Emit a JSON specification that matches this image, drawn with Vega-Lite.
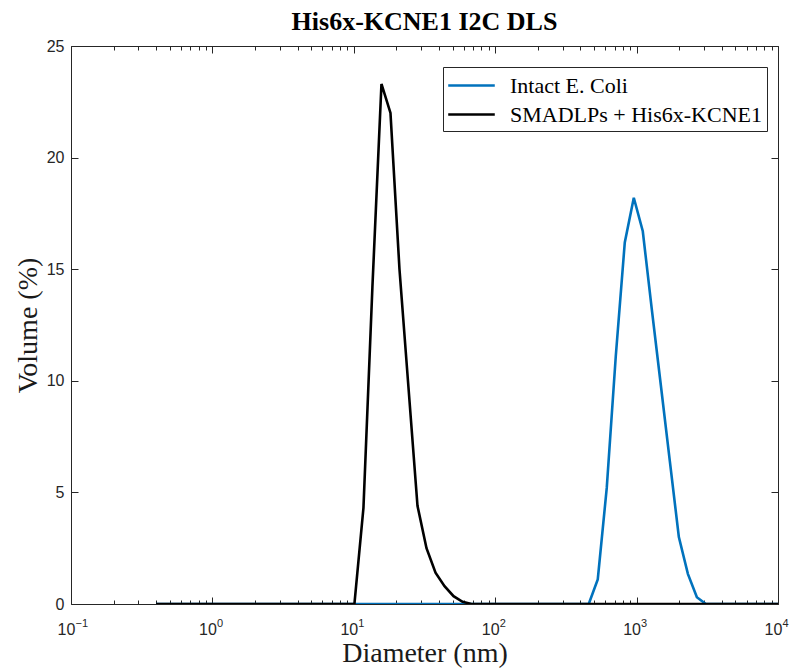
{
  "$schema": "https://vega.github.io/schema/vega-lite/v6.json",
  "width": 707,
  "height": 558,
  "autosize": {"type": "none"},
  "padding": {"left": 71, "top": 46, "right": 11, "bottom": 64},
  "background": "white",
  "title": {"text": "His6x-KCNE1 I2C DLS", "font": "Liberation Serif", "fontSize": 26, "fontWeight": "bold", "color": "black", "anchor": "middle", "frame": "group", "offset": 3},
  "config": {"view": {"stroke": null}},
  "data": {"values": [
    {"d":0.4,"s":"Intact E. Coli","v":0},{"d":0.4632,"s":"Intact E. Coli","v":0},{"d":0.5365,"s":"Intact E. Coli","v":0},{"d":0.6213,"s":"Intact E. Coli","v":0},{"d":0.7195,"s":"Intact E. Coli","v":0},{"d":0.8332,"s":"Intact E. Coli","v":0},{"d":0.9649,"s":"Intact E. Coli","v":0},{"d":1.117,"s":"Intact E. Coli","v":0},{"d":1.294,"s":"Intact E. Coli","v":0},{"d":1.499,"s":"Intact E. Coli","v":0},
    {"d":1.736,"s":"Intact E. Coli","v":0},{"d":2.01,"s":"Intact E. Coli","v":0},{"d":2.328,"s":"Intact E. Coli","v":0},{"d":2.696,"s":"Intact E. Coli","v":0},{"d":3.122,"s":"Intact E. Coli","v":0},{"d":3.615,"s":"Intact E. Coli","v":0},{"d":4.187,"s":"Intact E. Coli","v":0},{"d":4.849,"s":"Intact E. Coli","v":0},{"d":5.615,"s":"Intact E. Coli","v":0},{"d":6.503,"s":"Intact E. Coli","v":0},
    {"d":7.531,"s":"Intact E. Coli","v":0},{"d":8.721,"s":"Intact E. Coli","v":0},{"d":10.1,"s":"Intact E. Coli","v":0},{"d":11.7,"s":"Intact E. Coli","v":0},{"d":13.54,"s":"Intact E. Coli","v":0},{"d":15.69,"s":"Intact E. Coli","v":0},{"d":18.17,"s":"Intact E. Coli","v":0},{"d":21.04,"s":"Intact E. Coli","v":0},{"d":24.36,"s":"Intact E. Coli","v":0},{"d":28.21,"s":"Intact E. Coli","v":0},
    {"d":32.67,"s":"Intact E. Coli","v":0},{"d":37.84,"s":"Intact E. Coli","v":0},{"d":43.82,"s":"Intact E. Coli","v":0},{"d":50.75,"s":"Intact E. Coli","v":0},{"d":58.77,"s":"Intact E. Coli","v":0},{"d":68.06,"s":"Intact E. Coli","v":0},{"d":78.82,"s":"Intact E. Coli","v":0},{"d":91.28,"s":"Intact E. Coli","v":0},{"d":105.7,"s":"Intact E. Coli","v":0},{"d":122.4,"s":"Intact E. Coli","v":0},
    {"d":141.8,"s":"Intact E. Coli","v":0},{"d":164.2,"s":"Intact E. Coli","v":0},{"d":190.1,"s":"Intact E. Coli","v":0},{"d":220.2,"s":"Intact E. Coli","v":0},{"d":255,"s":"Intact E. Coli","v":0},{"d":295.3,"s":"Intact E. Coli","v":0},{"d":342,"s":"Intact E. Coli","v":0},{"d":396.1,"s":"Intact E. Coli","v":0},{"d":458.7,"s":"Intact E. Coli","v":0},{"d":531.2,"s":"Intact E. Coli","v":1.1},
    {"d":615.1,"s":"Intact E. Coli","v":5.2},{"d":712.4,"s":"Intact E. Coli","v":11.1},{"d":825,"s":"Intact E. Coli","v":16.2},{"d":955.4,"s":"Intact E. Coli","v":18.2},{"d":1106,"s":"Intact E. Coli","v":16.7},{"d":1281,"s":"Intact E. Coli","v":13.2},{"d":1484,"s":"Intact E. Coli","v":9.8},{"d":1718,"s":"Intact E. Coli","v":6.4},{"d":1990,"s":"Intact E. Coli","v":3.0},{"d":2305,"s":"Intact E. Coli","v":1.35},
    {"d":2669,"s":"Intact E. Coli","v":0.3},{"d":3091,"s":"Intact E. Coli","v":0},{"d":3580,"s":"Intact E. Coli","v":0},{"d":4145,"s":"Intact E. Coli","v":0},{"d":4801,"s":"Intact E. Coli","v":0},{"d":5560,"s":"Intact E. Coli","v":0},{"d":6439,"s":"Intact E. Coli","v":0},{"d":7456,"s":"Intact E. Coli","v":0},{"d":8635,"s":"Intact E. Coli","v":0},{"d":10000,"s":"Intact E. Coli","v":0},
    {"d":0.4,"s":"SMADLPs + His6x-KCNE1","v":0},{"d":0.4632,"s":"SMADLPs + His6x-KCNE1","v":0},{"d":0.5365,"s":"SMADLPs + His6x-KCNE1","v":0},{"d":0.6213,"s":"SMADLPs + His6x-KCNE1","v":0},{"d":0.7195,"s":"SMADLPs + His6x-KCNE1","v":0},{"d":0.8332,"s":"SMADLPs + His6x-KCNE1","v":0},{"d":0.9649,"s":"SMADLPs + His6x-KCNE1","v":0},{"d":1.117,"s":"SMADLPs + His6x-KCNE1","v":0},{"d":1.294,"s":"SMADLPs + His6x-KCNE1","v":0},{"d":1.499,"s":"SMADLPs + His6x-KCNE1","v":0},
    {"d":1.736,"s":"SMADLPs + His6x-KCNE1","v":0},{"d":2.01,"s":"SMADLPs + His6x-KCNE1","v":0},{"d":2.328,"s":"SMADLPs + His6x-KCNE1","v":0},{"d":2.696,"s":"SMADLPs + His6x-KCNE1","v":0},{"d":3.122,"s":"SMADLPs + His6x-KCNE1","v":0},{"d":3.615,"s":"SMADLPs + His6x-KCNE1","v":0},{"d":4.187,"s":"SMADLPs + His6x-KCNE1","v":0},{"d":4.849,"s":"SMADLPs + His6x-KCNE1","v":0},{"d":5.615,"s":"SMADLPs + His6x-KCNE1","v":0},{"d":6.503,"s":"SMADLPs + His6x-KCNE1","v":0},
    {"d":7.531,"s":"SMADLPs + His6x-KCNE1","v":0},{"d":8.721,"s":"SMADLPs + His6x-KCNE1","v":0},{"d":10.1,"s":"SMADLPs + His6x-KCNE1","v":0},{"d":11.7,"s":"SMADLPs + His6x-KCNE1","v":4.3},{"d":13.54,"s":"SMADLPs + His6x-KCNE1","v":14.2},{"d":15.69,"s":"SMADLPs + His6x-KCNE1","v":23.3},{"d":18.17,"s":"SMADLPs + His6x-KCNE1","v":22.0},{"d":21.04,"s":"SMADLPs + His6x-KCNE1","v":15.0},{"d":24.36,"s":"SMADLPs + His6x-KCNE1","v":9.7},{"d":28.21,"s":"SMADLPs + His6x-KCNE1","v":4.4},
    {"d":32.67,"s":"SMADLPs + His6x-KCNE1","v":2.5},{"d":37.84,"s":"SMADLPs + His6x-KCNE1","v":1.4},{"d":43.82,"s":"SMADLPs + His6x-KCNE1","v":0.8},{"d":50.75,"s":"SMADLPs + His6x-KCNE1","v":0.35},{"d":58.77,"s":"SMADLPs + His6x-KCNE1","v":0.1},{"d":68.06,"s":"SMADLPs + His6x-KCNE1","v":0},{"d":78.82,"s":"SMADLPs + His6x-KCNE1","v":0},{"d":91.28,"s":"SMADLPs + His6x-KCNE1","v":0},{"d":105.7,"s":"SMADLPs + His6x-KCNE1","v":0},{"d":122.4,"s":"SMADLPs + His6x-KCNE1","v":0},
    {"d":141.8,"s":"SMADLPs + His6x-KCNE1","v":0},{"d":164.2,"s":"SMADLPs + His6x-KCNE1","v":0},{"d":190.1,"s":"SMADLPs + His6x-KCNE1","v":0},{"d":220.2,"s":"SMADLPs + His6x-KCNE1","v":0},{"d":255,"s":"SMADLPs + His6x-KCNE1","v":0},{"d":295.3,"s":"SMADLPs + His6x-KCNE1","v":0},{"d":342,"s":"SMADLPs + His6x-KCNE1","v":0},{"d":396.1,"s":"SMADLPs + His6x-KCNE1","v":0},{"d":458.7,"s":"SMADLPs + His6x-KCNE1","v":0},{"d":531.2,"s":"SMADLPs + His6x-KCNE1","v":0},
    {"d":615.1,"s":"SMADLPs + His6x-KCNE1","v":0},{"d":712.4,"s":"SMADLPs + His6x-KCNE1","v":0},{"d":825,"s":"SMADLPs + His6x-KCNE1","v":0},{"d":955.4,"s":"SMADLPs + His6x-KCNE1","v":0},{"d":1106,"s":"SMADLPs + His6x-KCNE1","v":0},{"d":1281,"s":"SMADLPs + His6x-KCNE1","v":0},{"d":1484,"s":"SMADLPs + His6x-KCNE1","v":0},{"d":1718,"s":"SMADLPs + His6x-KCNE1","v":0},{"d":1990,"s":"SMADLPs + His6x-KCNE1","v":0},{"d":2305,"s":"SMADLPs + His6x-KCNE1","v":0},
    {"d":2669,"s":"SMADLPs + His6x-KCNE1","v":0},{"d":3091,"s":"SMADLPs + His6x-KCNE1","v":0},{"d":3580,"s":"SMADLPs + His6x-KCNE1","v":0},{"d":4145,"s":"SMADLPs + His6x-KCNE1","v":0},{"d":4801,"s":"SMADLPs + His6x-KCNE1","v":0},{"d":5560,"s":"SMADLPs + His6x-KCNE1","v":0},{"d":6439,"s":"SMADLPs + His6x-KCNE1","v":0},{"d":7456,"s":"SMADLPs + His6x-KCNE1","v":0},{"d":8635,"s":"SMADLPs + His6x-KCNE1","v":0},{"d":10000,"s":"SMADLPs + His6x-KCNE1","v":0}
  ]},
  "layer": [
    {
      "mark": {"type": "line", "strokeWidth": 2.6, "strokeJoin": "miter", "clip": true},
      "encoding": {
        "x": {"field": "d", "type": "quantitative",
              "scale": {"type": "log", "domain": [0.1, 10000], "nice": false},
              "axis": {"orient": "bottom", "values": [0.1, 1, 10, 100, 1000, 10000], "labelExpr": "'10'",
                       "tickSize": -7, "tickColor": "#262626", "tickWidth": 1, "domainColor": "#262626", "domainWidth": 1,
                       "labelFont": "Liberation Sans", "labelFontSize": 16, "labelColor": "#262626", "labelPadding": 24, "labelOffset": -5,
                       "labelFlush": false, "labelOverlap": false, "grid": false,
                       "title": "Diameter (nm)", "titleFont": "Liberation Serif", "titleFontSize": 28, "titleFontWeight": "normal", "titleColor": "#1a1a1a", "titlePadding": 2}},
        "y": {"field": "v", "type": "quantitative",
              "scale": {"domain": [0, 25], "nice": false, "zero": false},
              "axis": {"orient": "left", "values": [0, 5, 10, 15, 20, 25],
                       "tickSize": -7, "tickColor": "#262626", "tickWidth": 1, "domainColor": "#262626", "domainWidth": 1,
                       "labelFont": "Liberation Sans", "labelFontSize": 16, "labelColor": "#262626", "labelPadding": 14,
                       "labelFlush": false, "labelOverlap": false, "grid": false,
                       "title": "Volume (%)", "titleFont": "Liberation Serif", "titleFontSize": 28, "titleFontWeight": "normal", "titleColor": "#1a1a1a", "titlePadding": 4}},
        "color": {"field": "s", "type": "nominal",
                  "scale": {"domain": ["Intact E. Coli", "SMADLPs + His6x-KCNE1"], "range": ["#0072BD", "#000000"]},
                  "legend": {"orient": "none", "legendX": 372, "legendY": 21, "title": null,
                             "symbolType": "M-1.94,0H1.94", "symbolSize": 576, "symbolStrokeWidth": 2.6, "symbolOffset": 10,
                             "symbolFillColor": "transparent",
                             "labelFont": "Liberation Serif", "labelFontSize": 22, "labelColor": "black", "labelOffset": 25, "labelLimit": 400,
                             "strokeColor": "#262626", "fillColor": "white", "padding": 5, "rowPadding": 4}}
      }
    },
    {
      "mark": {"type": "point", "opacity": 0},
      "encoding": {
        "x": {"field": "d", "type": "quantitative",
              "axis": {"orient": "bottom", "values": [0.2,0.3,0.4,0.5,0.6,0.7,0.8,0.9,2,3,4,5,6,7,8,9,20,30,40,50,60,70,80,90,200,300,400,500,600,700,800,900,2000,3000,4000,5000,6000,7000,8000,9000],
                       "tickSize": -4, "tickColor": "#262626", "tickWidth": 1, "domain": false, "labels": false, "grid": false, "title": null}},
        "y": {"field": "v", "type": "quantitative", "axis": null}
      }
    },
    {
      "mark": {"type": "point", "opacity": 0},
      "encoding": {
        "x": {"field": "d", "type": "quantitative",
              "axis": {"orient": "bottom", "values": [0.1, 1, 10, 100, 1000, 10000],
                       "labelExpr": "format(round(log(datum.value)/LN10),'d')",
                       "ticks": false, "domain": false, "grid": false, "title": null,
                       "labelFont": "Liberation Sans", "labelFontSize": 11, "labelColor": "#262626", "labelPadding": 13, "labelOffset": 4, "labelAlign": "left",
                       "labelFlush": false, "labelOverlap": false}},
        "y": {"field": "v", "type": "quantitative",
              "axis": {"orient": "right", "values": [0, 5, 10, 15, 20, 25], "tickSize": -7, "tickColor": "#262626", "tickWidth": 1,
                       "domainColor": "#262626", "domainWidth": 1, "labels": false, "grid": false, "title": null}}
      }
    },
    {
      "mark": {"type": "point", "opacity": 0},
      "encoding": {
        "x": {"field": "d", "type": "quantitative",
              "axis": {"orient": "top", "values": [0.1, 1, 10, 100, 1000, 10000], "tickSize": -7, "tickColor": "#262626", "tickWidth": 1,
                       "domainColor": "#262626", "domainWidth": 1, "labels": false, "grid": false, "title": null}},
        "y": {"field": "v", "type": "quantitative", "axis": null}
      }
    },
    {
      "mark": {"type": "point", "opacity": 0},
      "encoding": {
        "x": {"field": "d", "type": "quantitative",
              "axis": {"orient": "top", "values": [0.2,0.3,0.4,0.5,0.6,0.7,0.8,0.9,2,3,4,5,6,7,8,9,20,30,40,50,60,70,80,90,200,300,400,500,600,700,800,900,2000,3000,4000,5000,6000,7000,8000,9000],
                       "tickSize": -4, "tickColor": "#262626", "tickWidth": 1, "domain": false, "labels": false, "grid": false, "title": null}},
        "y": {"field": "v", "type": "quantitative", "axis": null}
      }
    }
  ],
  "resolve": {"axis": {"x": "independent", "y": "independent"}}
}
